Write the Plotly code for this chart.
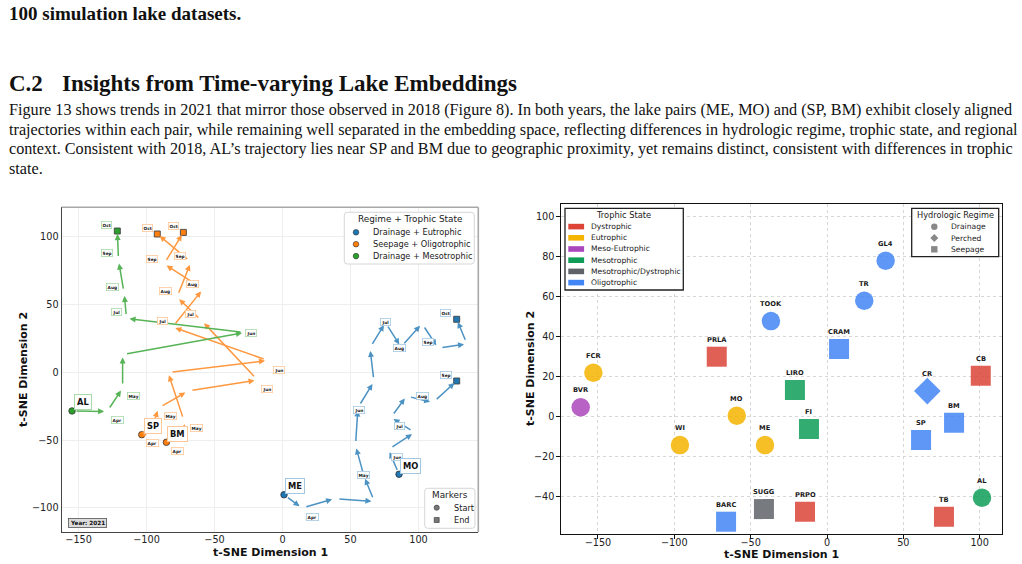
import plotly.graph_objects as go

W, H = 1022, 564

# ------------------------------------------------------------------ page text
top_line = "100 simulation lake datasets."
section_no = "C.2"
section_title = "Insights from Time-varying Lake Embeddings"
paragraph_lines = [
    "Figure 13 shows trends in 2021 that mirror those observed in 2018 (Figure 8). In both years, the lake pairs (ME, MO) and (SP, BM) exhibit closely aligned",
    "trajectories within each pair, while remaining well separated in the embedding space, reflecting differences in hydrologic regime, trophic state, and regional",
    "context. Consistent with 2018, AL\u2019s trajectory lies near SP and BM due to geographic proximity, yet remains distinct, consistent with differences in trophic",
    "state.",
]

# ------------------------------------------------------------------ left panel data (time-varying t-SNE trajectories, 2021)
year_label = "Year: 2021"
groups = ["Drainage + Eutrophic", "Seepage + Oligotrophic", "Drainage + Mesotrophic"]

me_x = [1.1, 14.3, 38.6, 67.6, 59.9, 53.7, 55.5, 67.3, 64.3, 75.7, 87.1, 102.6, 114.3, 135.7, 128.1]
me_y = [-90.3, -100.1, -93.1, -95.3, -76.5, -54.0, -26.0, -6.8, 17.9, 36.7, 18.7, 36.0, 17.9, 20.9, 39.1]
me_months = ["Apr", "May", "Jun", "Jul", "Aug", "Sep", "Oct"]
me_mx = [22.2, 59.9, 56.3, 75.9, 86.4, 106.8, 120.2]
me_my = [-106.5, -75.5, -27.8, 36.9, 18.1, 22.1, 44.0]

mo_x = [85.7, 77.9, 97.1, 79.8, 91.2, 110.7, 128.1]
mo_y = [-75.2, -56.9, -44.4, -33.3, -17.5, -22.3, -6.4]
mo_months = ["Jun", "Jul", "Aug", "Sep"]
mo_mx = [84.4, 85.9, 103.1, 120.0]
mo_my = [-62.2, -39.8, -17.3, -1.8]

sp_x = [-103.5, -96.5, -91.2, -69.5, -18.4, -59.2, -77.6, -67.3, -92.1]
sp_y = [-46.0, -43.0, -26.3, -13.8, -5.7, 37.8, 55.5, 81.3, 102.0]
sp_months = ["Apr", "May", "Jun", "Jul", "Aug", "Sep", "Oct"]
sp_mx = [-95.7, -82.7, -11.2, -68.0, -85.7, -75.4, -99.6]
sp_my = [-51.9, -32.0, -12.5, 42.8, 60.2, 86.0, 106.6]

bm_x = [-85.4, -72.0, -72.4, -84.2, -10.7, -80.9, -58.5, -87.1, -72.9]
bm_y = [-51.6, -47.5, -35.9, -0.1, 8.7, 33.4, 61.4, 79.9, 103.2]
bm_months = ["Apr", "May", "Jun", "Jul", "Aug", "Sep", "Oct"]
bm_mx = [-77.4, -63.6, -2.6, -88.4, -66.3, -96.2, -80.5]
bm_my = [-57.8, -40.9, 1.7, 37.6, 65.1, 83.6, 108.1]

al_x = [-154.8, -129.0, -117.6, -117.6, -27.6, -114.7, -116.5, -120.6, -121.5]
al_y = [-28.5, -28.9, -11.6, 13.1, 29.4, 39.7, 58.5, 82.4, 104.2]
al_months = ["Apr", "May", "Jun", "Jul", "Aug", "Sep", "Oct"]
al_mx = [-121.2, -109.7, -23.4, -121.9, -124.9, -129.3, -129.3]
al_my = [-35.4, -17.3, 28.8, 44.2, 63.1, 88.2, 108.8]

trajectories = [
    ("ME", groups[0], me_x, me_y, me_months, me_mx, me_my),
    ("MO", groups[0], mo_x, mo_y, mo_months, mo_mx, mo_my),
    ("SP", groups[1], sp_x, sp_y, sp_months, sp_mx, sp_my),
    ("BM", groups[1], bm_x, bm_y, bm_months, bm_mx, bm_my),
    ("AL", groups[2], al_x, al_y, al_months, al_mx, al_my),
]

# ------------------------------------------------------------------ right panel data (static lake embeddings)
lakes = ["FCR", "BVR", "WI", "MO", "ME", "PRLA", "TOOK", "BARC", "SUGG", "PRPO", "LIRO",
         "FI", "CRAM", "TR", "GL4", "CR", "BM", "SP", "CB", "TB", "AL"]
lake_x = [-153.0, -161.3, -96.3, -59.1, -40.6, -72.2, -36.7, -66.1, -41.3, -14.4, -21.0,
          -11.8, 7.9, 24.4, 38.4, 65.7, 83.2, 61.6, 100.7, 76.6, 101.5]
lake_y = [22.0, 4.7, -14.2, 0.5, -14.2, 30.0, 47.8, -52.5, -46.2, -47.5, 13.3,
          -6.2, 33.8, 58.0, 78.0, 12.8, -3.0, -11.7, 20.5, -50.0, -40.5]
trophic = ["Eutrophic", "Meso-Eutrophic", "Eutrophic", "Eutrophic", "Eutrophic", "Dystrophic",
           "Oligotrophic", "Oligotrophic", "Mesotrophic/Dystrophic", "Dystrophic", "Mesotrophic",
           "Mesotrophic", "Oligotrophic", "Oligotrophic", "Oligotrophic", "Oligotrophic",
           "Oligotrophic", "Oligotrophic", "Dystrophic", "Dystrophic", "Mesotrophic"]
regime = ["Drainage", "Drainage", "Drainage", "Drainage", "Drainage", "Seepage", "Drainage",
          "Seepage", "Seepage", "Seepage", "Seepage", "Seepage", "Seepage", "Drainage",
          "Drainage", "Perched", "Seepage", "Seepage", "Seepage", "Seepage", "Drainage"]
trophic_states = ["Dystrophic", "Eutrophic", "Meso-Eutrophic", "Mesotrophic",
                  "Mesotrophic/Dystrophic", "Oligotrophic"]
regimes = ["Drainage", "Perched", "Seepage"]

# ------------------------------------------------------------------ styles
FONT = "DejaVu Sans"
SERIF = "Liberation Serif"
GROUP_LINE = {groups[0]: "#4c92c3", groups[1]: "#ff983e", groups[2]: "#56b356"}
GROUP_FILL = {groups[0]: "#1f77b4", groups[1]: "#ff7f0e", groups[2]: "#2ca02c"}
GROUP_SOFT = {groups[0]: "#a5c8e2", groups[1]: "#ffc797", groups[2]: "#a9daa9"}
TROPHIC_COLOR = {"Dystrophic": "#DB4437", "Eutrophic": "#F4B400", "Meso-Eutrophic": "#AB47BC",
                 "Mesotrophic": "#0F9D58", "Mesotrophic/Dystrophic": "#5F6368",
                 "Oligotrophic": "#4285F4"}
REGIME_SYMBOL = {"Drainage": "circle", "Perched": "diamond", "Seepage": "square"}
REGIME_SIZE = {"Drainage": 18.5, "Perched": 20.5, "Seepage": 20}


def PX(x):
    return x / W


def PY(y):
    return 1 - y / H


fig = go.Figure()
ann = []
shapes = []

# ------------------------------------------------------------------ left panel traces
for name, grp, xs, ys, months, mx, my in trajectories:
    line_c = GROUP_LINE[grp]
    for i in range(len(xs) - 1):
        ann.append(dict(x=xs[i + 1], y=ys[i + 1], ax=xs[i], ay=ys[i], xref="x", yref="y",
                        axref="x", ayref="y", text="", showarrow=True, arrowhead=2,
                        arrowsize=0.8, arrowwidth=1.5, arrowcolor=line_c,
                        standoff=3, startstandoff=3))
    fig.add_trace(go.Scatter(x=[xs[0]], y=[ys[0]], mode="markers", xaxis="x", yaxis="y",
                             marker=dict(symbol="circle", size=6.5, color=GROUP_FILL[grp],
                                         line=dict(color="#333333", width=0.8)),
                             showlegend=False, hoverinfo="skip"))
    fig.add_trace(go.Scatter(x=[xs[-1]], y=[ys[-1]], mode="markers", xaxis="x", yaxis="y",
                             marker=dict(symbol="square", size=6, color=GROUP_FILL[grp],
                                         line=dict(color="#444444", width=0.9)),
                             showlegend=False, hoverinfo="skip"))

for name, grp, xs, ys, months, mx, my in trajectories:
    for m, x, y in zip(months, mx, my):
        ann.append(dict(x=x, y=y, xref="x", yref="y", text="<b>%s</b>" % m, showarrow=False,
                        font=dict(family=FONT, size=4.3, color="#111"),
                        bgcolor="white", bordercolor=GROUP_SOFT[grp], borderwidth=0.8,
                        borderpad=0.8))

for name, grp, xs, ys, months, mx, my in trajectories:
    ann.append(dict(x=xs[0], y=ys[0], xref="x", yref="y", text="<b>%s</b>" % name,
                    showarrow=False, xshift=11, yshift=8.5,
                    font=dict(family=FONT, size=8.3, color="#111"),
                    bgcolor="white", bordercolor=GROUP_SOFT[grp], borderwidth=1, borderpad=2))

# year box
ann.append(dict(x=PX(87), y=PY(522.8), xref="paper", yref="paper", text="<b>%s</b>" % year_label,
                showarrow=False, xanchor="center", yanchor="middle",
                font=dict(family=FONT, size=5.7, color="#111"),
                bgcolor="#dcdcdc", bordercolor="#555", borderwidth=0.8, borderpad=1.2))

# ------------------------------------------------------------------ right panel trace
fig.add_trace(go.Scatter(
    x=lake_x, y=lake_y, mode="markers", xaxis="x2", yaxis="y2",
    marker=dict(color=[TROPHIC_COLOR[t] for t in trophic],
                symbol=[REGIME_SYMBOL[r] for r in regime],
                size=[REGIME_SIZE[r] for r in regime], opacity=0.85, line=dict(width=0)),
    showlegend=False, hoverinfo="skip"))
for n, x, y in zip(lakes, lake_x, lake_y):
    ann.append(dict(x=x, y=y, xref="x2", yref="y2", text="<b>%s</b>" % n, showarrow=False,
                    yshift=17, font=dict(family=FONT, size=6.7, color="#1a1a1a")))


# ------------------------------------------------------------------ legends (drawn as layout)
def rrect(x0, y0, x1, y1, r):
    pts = [("M", x0 + r, y0), ("L", x1 - r, y0), ("Q", x1, y0, x1, y0 + r), ("L", x1, y1 - r),
           ("Q", x1, y1, x1 - r, y1), ("L", x0 + r, y1), ("Q", x0, y1, x0, y1 - r),
           ("L", x0, y0 + r), ("Q", x0, y0, x0 + r, y0)]
    s = ""
    for p in pts:
        c = p[0]
        v = p[1:]
        coords = " ".join("%.5f,%.5f" % (PX(v[k]), PY(v[k + 1])) for k in range(0, len(v), 2))
        s += c + coords + " "
    return s + "Z"


def box(x0, y0, x1, y1, line_c, lw, r=0, fill="white"):
    if r > 0:
        shapes.append(dict(type="path", xref="paper", yref="paper", path=rrect(x0, y0, x1, y1, r),
                           line=dict(color=line_c, width=lw), fillcolor=fill, layer="above"))
    else:
        shapes.append(dict(type="rect", xref="paper", yref="paper", x0=PX(x0), x1=PX(x1),
                           y0=PY(y1), y1=PY(y0), line=dict(color=line_c, width=lw),
                           fillcolor=fill, layer="above"))


def marker_shape(kind, cx, cy, s, fill, edge, lw):
    h = s / 2
    if kind == "circle":
        shapes.append(dict(type="circle", xref="paper", yref="paper", x0=PX(cx - h), x1=PX(cx + h),
                           y0=PY(cy + h), y1=PY(cy - h), fillcolor=fill,
                           line=dict(color=edge, width=lw), layer="above"))
    elif kind == "square":
        shapes.append(dict(type="rect", xref="paper", yref="paper", x0=PX(cx - h), x1=PX(cx + h),
                           y0=PY(cy + h), y1=PY(cy - h), fillcolor=fill,
                           line=dict(color=edge, width=lw), layer="above"))
    elif kind == "diamond":
        d = h * 1.25
        path = "M%.5f,%.5f L%.5f,%.5f L%.5f,%.5f L%.5f,%.5f Z" % (
            PX(cx), PY(cy - d), PX(cx + d), PY(cy), PX(cx), PY(cy + d), PX(cx - d), PY(cy))
        shapes.append(dict(type="path", xref="paper", yref="paper", path=path, fillcolor=fill,
                           line=dict(color=edge, width=lw), layer="above"))
    elif kind == "bar":
        shapes.append(dict(type="rect", xref="paper", yref="paper", x0=PX(cx - 7.9), x1=PX(cx + 7.9),
                           y0=PY(cy + 2.8), y1=PY(cy - 2.8), fillcolor=fill,
                           line=dict(width=0), layer="above"))


def text(x, y, s, size, anchor="left", color="#1a1a1a", family=FONT):
    ann.append(dict(x=PX(x), y=PY(y), xref="paper", yref="paper", text=s, showarrow=False,
                    xanchor=anchor, yanchor="middle", font=dict(family=family, size=size, color=color)))


# left: Regime + Trophic State
box(344.3, 212.3, 474.3, 264, "#cccccc", 0.8, r=3)
text(409.5, 219.3, "Regime + Trophic State", 8.9, "center")
for i, g in enumerate(groups):
    yy = 232.3 + i * 11.9
    marker_shape("circle", 356, yy, 5.6, GROUP_FILL[g], "#333", 0.6)
    text(371, yy, g, 8.2)

# left: Markers
box(424.7, 488.3, 475, 528.3, "#cccccc", 0.8, r=3)
text(449.8, 495, "Markers", 8.9, "center")
marker_shape("circle", 436.7, 507.7, 5.2, "#777777", "#333", 0.6)
text(451.7, 507.7, "Start", 8.2)
marker_shape("square", 436.7, 520, 5.0, "#777777", "#333", 0.6)
text(451.7, 520, "End", 8.2)

# right: Trophic State
box(565, 208.3, 683.3, 290, "#222222", 1.3)
text(623.8, 215, "Trophic State", 8.3, "center")
for i, t in enumerate(trophic_states):
    yy = 226.6 + i * 11.2
    marker_shape("bar", 576.2, yy, 0, TROPHIC_COLOR[t], None, 0)
    text(589.3, yy, t, 7.6)

# right: Hydrologic Regime
box(911.7, 208.3, 998.7, 256.7, "#222222", 1.3)
text(955.3, 215, "Hydrologic Regime", 8.2, "center")
for i, r in enumerate(regimes):
    yy = 226.7 + i * 11.3
    marker_shape(REGIME_SYMBOL[r], 934.3, yy, 6.4, "#888888", "#888888", 0)
    text(948.7, yy, r, 7.6)

# left panel top/right spines (lighter)
shapes.append(dict(type="line", xref="paper", yref="paper", x0=PX(61.7), x1=PX(478.3),
                   y0=PY(207.3), y1=PY(207.3), line=dict(color="#a8a8a8", width=1.6), layer="above"))
shapes.append(dict(type="line", xref="paper", yref="paper", x0=PX(478.3), x1=PX(478.3),
                   y0=PY(207.3), y1=PY(532.3), line=dict(color="#a8a8a8", width=1.6), layer="above"))

# axis titles
for x, y, ang in [(270, 552, 0), (23, 370, -90), (781.5, 554, 0), (530, 369, -90)]:
    ann.append(dict(x=PX(x), y=PY(y), xref="paper", yref="paper",
                    text="<b>t-SNE Dimension %d</b>" % (1 if ang == 0 else 2), showarrow=False,
                    textangle=ang, xanchor="center", yanchor="middle",
                    font=dict(family=FONT, size=11, color="#111")))

# page text
text(7, 13, "<b>%s</b>" % top_line, 19, family=SERIF, color="#111")
text(7, 83, "<b>%s</b>" % section_no, 23, family=SERIF, color="#111")
text(60, 83, "<b>%s</b>" % section_title, 23, family=SERIF, color="#111")
for i, ln in enumerate(paragraph_lines):
    text(7, 110 + i * 19.7, ln, 16.2, family=SERIF, color="#111")

tickfont = dict(family=FONT, size=9.7, color="#222")
fig.update_layout(
    width=W, height=H, margin=dict(l=0, r=0, t=0, b=0, autoexpand=False),
    paper_bgcolor="white", plot_bgcolor="white", showlegend=False,
    annotations=ann, shapes=shapes,
    xaxis=dict(domain=[PX(61.7), PX(478.3)], range=[-162.4, 144.0], anchor="y",
               tickvals=[-150, -100, -50, 0, 50, 100], showgrid=True, gridcolor="#eeeeee",
               gridwidth=0.8, zeroline=False, showline=True, linecolor="#444", linewidth=1.3,
               ticks="", tickfont=tickfont, ticklabelstandoff=-2),
    yaxis=dict(domain=[1 - 532.3 / H, 1 - 207.3 / H], range=[-118.0, 121.7], anchor="x",
               tickvals=[-100, -50, 0, 50, 100], showgrid=True, gridcolor="#eeeeee",
               gridwidth=0.8, zeroline=False, showline=True, linecolor="#444", linewidth=1.3,
               ticks="", tickfont=tickfont),
    xaxis2=dict(domain=[PX(561), PX(1002.3)], range=[-174.2, 114.8], anchor="y2",
                tickvals=[-150, -100, -50, 0, 50, 100], showgrid=True, gridcolor="#d6d6d6",
                griddash="dot", gridwidth=0.8, zeroline=False, showline=True, mirror=True,
                linecolor="#111", linewidth=1.2, ticks="outside", ticklen=3.5, tickcolor="#111",
                tickfont=tickfont, ticklabelstandoff=-4),
    yaxis2=dict(domain=[1 - 534 / H, 1 - 204.3 / H], range=[-58.65, 106.2], anchor="x2",
                tickvals=[-40, -20, 0, 20, 40, 60, 80, 100], showgrid=True, gridcolor="#d6d6d6",
                griddash="dot", gridwidth=0.8, zeroline=False, showline=True, mirror=True,
                linecolor="#111", linewidth=1.2, ticks="outside", ticklen=3.5, tickcolor="#111",
                tickfont=tickfont),
)

fig.write_html("out.html", config={"displayModeBar": False})
